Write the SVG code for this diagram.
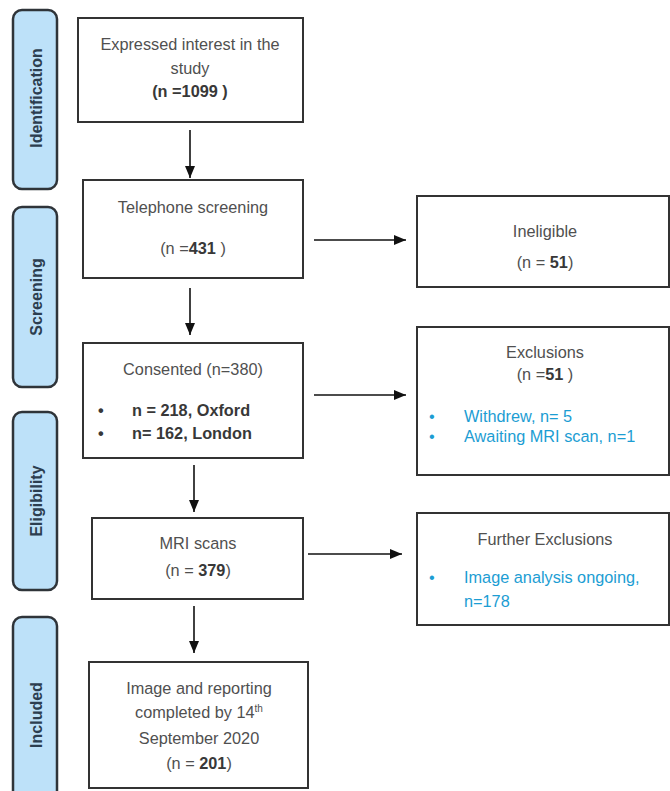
<svg xmlns="http://www.w3.org/2000/svg" width="670" height="791" viewBox="0 0 670 791">
<style>
.bar{fill:#bde1f9;stroke:#2f3439;stroke-width:2.5}
.box{fill:#fff;stroke:#333;stroke-width:2}
.t{font-family:"Liberation Sans",Arial,sans-serif;font-size:16.3px;fill:#505050}
.c{text-anchor:middle}
.b{font-weight:bold;fill:#383838}
.blue{fill:#1c9dd3}
.side{font-family:"Liberation Sans",Arial,sans-serif;font-size:16px;font-weight:bold;fill:#2c3e50;text-anchor:middle}
.conn{stroke:#111;stroke-width:1.6;fill:none;marker-end:url(#ah)}
</style>
<defs>
<marker id="ah" markerUnits="userSpaceOnUse" markerWidth="12" markerHeight="12" viewBox="0 0 12 12" refX="12" refY="6" orient="auto">
<path d="M0,1 L12,6 L0,11 z" fill="#111"/>
</marker>
</defs>
<rect width="670" height="791" fill="#fff"/>

<g id="stage-identification">
<rect class="bar" x="13" y="10" width="44" height="179" rx="9"/>
<text class="side" transform="translate(42,98) rotate(-90)">Identification</text>
</g>
<g id="stage-screening">
<rect class="bar" x="13" y="207" width="44" height="180" rx="9"/>
<text class="side" transform="translate(42,297) rotate(-90)">Screening</text>
</g>
<g id="stage-eligibility">
<rect class="bar" x="13" y="412" width="44" height="178" rx="9"/>
<text class="side" transform="translate(42,501) rotate(-90)">Eligibility</text>
</g>
<g id="stage-included">
<rect class="bar" x="13" y="617" width="44" height="190" rx="9"/>
<text class="side" transform="translate(42,715) rotate(-90)">Included</text>
</g>

<g id="n-interest">
<rect class="box" x="78" y="18" width="225" height="104"/>
<text class="t c" x="190" y="50">Expressed interest in the</text>
<text class="t c" x="190" y="74">study</text>
<text class="t c b" x="190" y="97">(n =1099 )</text>
</g>
<g id="n-telephone">
<rect class="box" x="83" y="180" width="220" height="98"/>
<text class="t c" x="193" y="213">Telephone screening</text>
<text class="t c" x="193" y="254">(n =<tspan class="b">431</tspan> )</text>
</g>
<g id="n-ineligible">
<rect class="box" x="417" y="196" width="252" height="91"/>
<text class="t c" x="545" y="237">Ineligible</text>
<text class="t c" x="545" y="268">(n = <tspan class="b">51</tspan>)</text>
</g>
<g id="n-consented">
<rect class="box" x="83" y="343" width="220" height="115"/>
<text class="t c" x="193" y="375">Consented (n=380)</text>
<text class="t b" x="98" y="416">•</text>
<text class="t b" x="132" y="416">n = 218, Oxford</text>
<text class="t b" x="98" y="439">•</text>
<text class="t b" x="132" y="439">n= 162, London</text>
</g>
<g id="n-exclusions">
<rect class="box" x="417" y="327" width="252" height="148"/>
<text class="t c" x="545" y="358">Exclusions</text>
<text class="t c" x="545" y="380">(n =<tspan class="b">51</tspan> )</text>
<text class="t blue" x="429" y="422">•</text>
<text class="t blue" x="464" y="422">Withdrew, n= 5</text>
<text class="t blue" x="429" y="442">•</text>
<text class="t blue" x="464" y="442">Awaiting MRI scan, n=1</text>
</g>
<g id="n-mri">
<rect class="box" x="92" y="518" width="211" height="81"/>
<text class="t c" x="198" y="549">MRI scans</text>
<text class="t c" x="198" y="576">(n = <tspan class="b">379</tspan>)</text>
</g>
<g id="n-further">
<rect class="box" x="417" y="513" width="252" height="112"/>
<text class="t c" x="545" y="545">Further Exclusions</text>
<text class="t blue" x="429" y="583">•</text>
<text class="t blue" x="464" y="583">Image analysis ongoing,</text>
<text class="t blue" x="464" y="607">n=178</text>
</g>
<g id="n-included">
<rect class="box" x="89" y="662" width="219" height="126"/>
<text class="t c" x="199" y="694">Image and reporting</text>
<text class="t c" x="199" y="718">completed by 14<tspan font-size="10px" dy="-6">th</tspan></text>
<text class="t c" x="199" y="744">September 2020</text>
<text class="t c" x="199" y="769">(n =  <tspan class="b">201</tspan>)</text>
</g>

<g id="connectors">
<line class="conn" x1="190" y1="130" x2="190" y2="178"/>
<line class="conn" x1="190" y1="288" x2="190" y2="335"/>
<line class="conn" x1="194" y1="465" x2="194" y2="512"/>
<line class="conn" x1="194" y1="606" x2="194" y2="653"/>
<line class="conn" x1="314" y1="240" x2="406" y2="240"/>
<line class="conn" x1="314" y1="395" x2="406" y2="395"/>
<line class="conn" x1="308" y1="554" x2="402" y2="554"/>
</g>
</svg>
